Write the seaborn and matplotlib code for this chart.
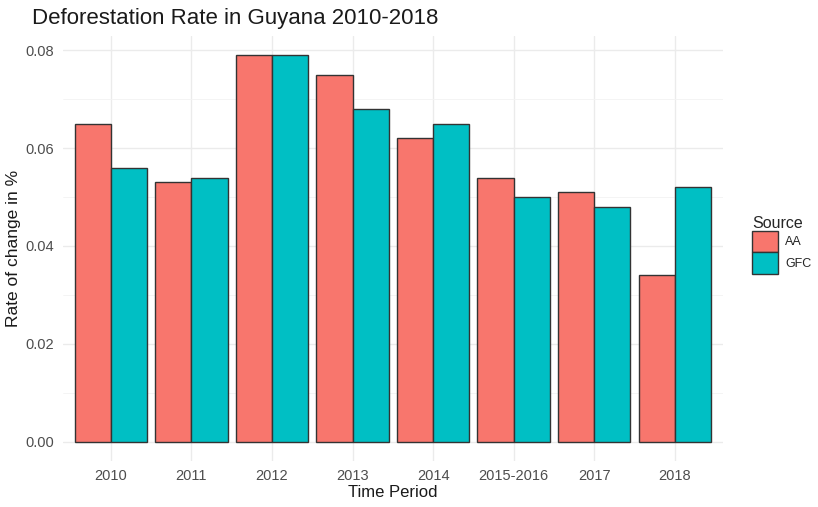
import matplotlib
matplotlib.use("Agg")
import matplotlib.pyplot as plt
import seaborn as sns
import pandas as pd
from matplotlib.ticker import MultipleLocator

periods = ["2010", "2011", "2012", "2013", "2014", "2015-2016", "2017", "2018"]
aa_values = [0.065, 0.053, 0.079, 0.075, 0.062, 0.054, 0.051, 0.034]
gfc_values = [0.056, 0.054, 0.079, 0.068, 0.065, 0.050, 0.048, 0.052]
sources = ["AA", "GFC"]

df = pd.DataFrame({
    "Time Period": periods * 2,
    "Rate": aa_values + gfc_values,
    "Source": ["AA"] * len(periods) + ["GFC"] * len(periods),
})

sns.set_theme(style="white")
plt.rcParams["font.family"] = ["Liberation Sans", "DejaVu Sans"]

fig = plt.figure(figsize=(8.18, 5.07), dpi=100)
ax = fig.add_axes([0.0765, 0.091, 0.8075, 0.838])

palette = {"AA": "#F8766D", "GFC": "#00BFC4"}
sns.barplot(data=df, x="Time Period", y="Rate", hue="Source", order=periods,
            hue_order=sources, palette=palette, width=0.9, dodge=True,
            edgecolor="#333333", linewidth=1.0, saturation=1, ax=ax, zorder=3)

ymax = max(aa_values + gfc_values)
ax.set_ylim(-ymax * 0.05, ymax * 1.05)
ax.set_xlim(-0.6, len(periods) - 1 + 0.6)

ax.set_yticks([0, 0.02, 0.04, 0.06, 0.08])
ax.set_yticklabels(["0.00", "0.02", "0.04", "0.06", "0.08"])
ax.yaxis.set_minor_locator(MultipleLocator(0.01))
ax.grid(True, which="major", color="#ebebeb", linewidth=1.0, zorder=0)
ax.grid(True, which="minor", axis="y", color="#f3f3f3", linewidth=0.6, zorder=0)
ax.set_axisbelow(True)
for s in ax.spines.values():
    s.set_visible(False)
ax.tick_params(axis="both", which="both", length=0, labelsize=10.5,
               labelcolor="#4d4d4d", pad=6)

ax.set_xlabel("Time Period", fontsize=12, color="#1a1a1a", labelpad=1)
ax.set_ylabel("Rate of change in %", fontsize=12.5, color="#1a1a1a", labelpad=3)
fig.text(0.039, 0.964, "Deforestation Rate in Guyana 2010-2018", fontsize=16,
         color="#1a1a1a", ha="left", va="center")

handles, labels = ax.get_legend_handles_labels()
leg = ax.legend(handles, labels, title="Source", loc="upper left",
                bbox_to_anchor=(1.044, 0.577), frameon=False, fontsize=9,
                title_fontsize=11.5, handlelength=2.1, handleheight=2.3,
                labelspacing=0.0, handletextpad=0.55, borderaxespad=0,
                borderpad=0)
leg._legend_box.align = "left"
for h in leg.legend_handles:
    h.set_edgecolor("#333333")
    h.set_linewidth(1.0)

fig.savefig("out.png", dpi=100, facecolor="white")
